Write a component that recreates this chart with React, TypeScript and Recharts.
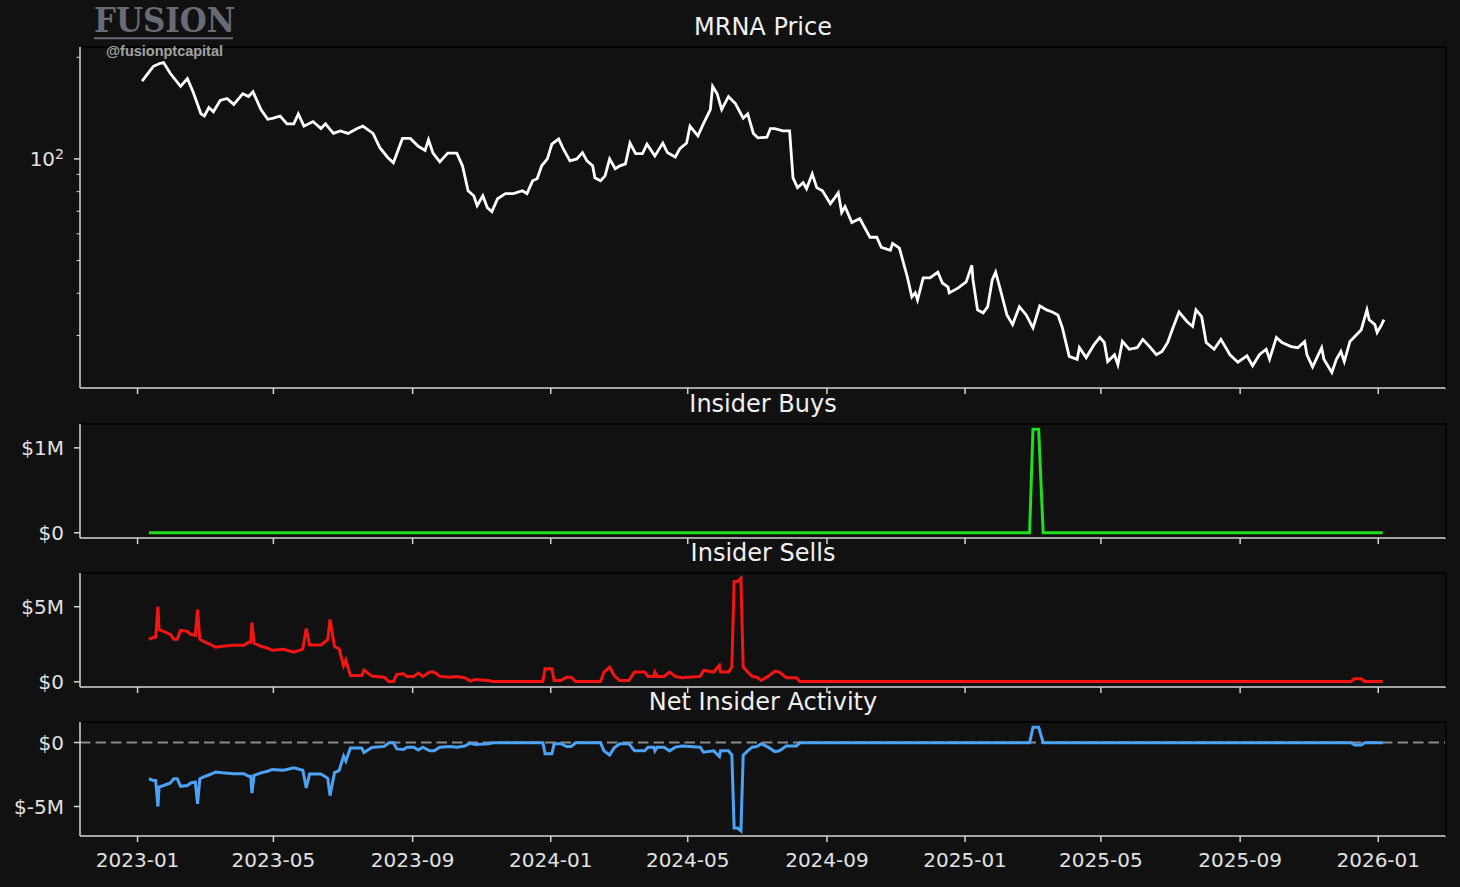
import React from 'react';
import { LineChart, Line, XAxis, YAxis, ReferenceLine } from 'recharts';

// MRNA close (USD)
const priceHistory: [string, number][] = [
  ['2023-01-05', 170], ['2023-01-10', 179], ['2023-01-15', 188], ['2023-01-21', 192],
  ['2023-01-24', 193], ['2023-01-30', 179], ['2023-02-08', 164], ['2023-02-14', 173],
  ['2023-02-19', 158], ['2023-02-26', 136], ['2023-03-01', 134], ['2023-03-05', 142],
  ['2023-03-09', 138], ['2023-03-15', 149], ['2023-03-21', 151], ['2023-03-27', 145],
  ['2023-04-04', 156], ['2023-04-09', 153], ['2023-04-13', 158], ['2023-04-20', 140],
  ['2023-04-26', 131], ['2023-05-01', 132], ['2023-05-07', 134], ['2023-05-13', 127],
  ['2023-05-19', 127], ['2023-05-23', 136], ['2023-05-28', 125], ['2023-06-05', 129],
  ['2023-06-12', 123], ['2023-06-16', 127], ['2023-06-23', 119], ['2023-06-29', 121],
  ['2023-07-06', 119], ['2023-07-14', 123], ['2023-07-19', 125], ['2023-07-28', 119],
  ['2023-08-03', 108], ['2023-08-10', 101], ['2023-08-15', 97.4], ['2023-08-23', 115],
  ['2023-08-30', 115], ['2023-09-06', 109], ['2023-09-12', 106], ['2023-09-15', 114],
  ['2023-09-19', 104], ['2023-09-25', 98], ['2023-10-02', 104], ['2023-10-10', 104],
  ['2023-10-15', 95.4], ['2023-10-20', 80.5], ['2023-10-25', 77.8], ['2023-10-28', 72.7],
  ['2023-11-02', 77.8], ['2023-11-06', 71.7], ['2023-11-10', 69.8], ['2023-11-15', 76.2],
  ['2023-11-22', 78.9], ['2023-11-29', 78.9], ['2023-12-07', 80.5], ['2023-12-11', 78.9],
  ['2023-12-16', 86.2], ['2023-12-20', 87.4], ['2023-12-24', 95.4], ['2023-12-29', 100],
  ['2024-01-02', 110.6], ['2024-01-08', 114.6], ['2024-01-12', 107.2], ['2024-01-18', 98.7],
  ['2024-01-24', 100], ['2024-01-29', 104.4], ['2024-02-02', 98.7], ['2024-02-07', 95.4],
  ['2024-02-09', 87.9], ['2024-02-14', 86.2], ['2024-02-18', 89.1], ['2024-02-22', 100],
  ['2024-02-27', 93.5], ['2024-03-02', 95.4], ['2024-03-07', 96.7], ['2024-03-11', 111.4],
  ['2024-03-16', 103.6], ['2024-03-22', 103.6], ['2024-03-26', 110.6], ['2024-04-02', 102],
  ['2024-04-09', 111.4], ['2024-04-13', 104.4], ['2024-04-20', 101.3], ['2024-04-24', 107.2],
  ['2024-04-30', 111.4], ['2024-05-03', 125], ['2024-05-10', 117], ['2024-05-15', 127.4],
  ['2024-05-21', 140], ['2024-05-23', 164], ['2024-05-27', 156], ['2024-05-31', 140],
  ['2024-06-06', 153], ['2024-06-12', 146], ['2024-06-19', 132], ['2024-06-23', 136],
  ['2024-06-28', 119], ['2024-07-02', 115.4], ['2024-07-10', 116], ['2024-07-13', 123],
  ['2024-07-17', 123], ['2024-07-24', 121], ['2024-07-30', 121], ['2024-08-02', 87.9],
  ['2024-08-06', 82.2], ['2024-08-11', 85], ['2024-08-14', 81.6], ['2024-08-19', 90.3],
  ['2024-08-23', 82.2], ['2024-08-28', 80.5], ['2024-09-04', 73.7], ['2024-09-08', 76.8],
  ['2024-09-11', 79.4], ['2024-09-14', 69.4], ['2024-09-17', 72.2], ['2024-09-23', 64.8],
  ['2024-09-30', 66.6], ['2024-10-09', 58.6], ['2024-10-15', 58.6], ['2024-10-19', 54.7],
  ['2024-10-27', 53.6], ['2024-10-29', 56.2], ['2024-11-04', 54.4], ['2024-11-11', 44.7],
  ['2024-11-15', 39], ['2024-11-18', 40.1], ['2024-11-20', 38.2], ['2024-11-25', 44.4],
  ['2024-12-01', 44.4], ['2024-12-08', 46.2], ['2024-12-12', 42.9], ['2024-12-17', 41.7],
  ['2024-12-18', 40.1], ['2024-12-26', 41.5], ['2025-01-02', 43.2], ['2025-01-07', 48.4],
  ['2025-01-08', 43.8], ['2025-01-12', 35.7], ['2025-01-17', 35], ['2025-01-21', 36.5],
  ['2025-01-25', 43.8], ['2025-01-28', 46.2], ['2025-02-01', 41.2], ['2025-02-07', 34.5],
  ['2025-02-12', 32.3], ['2025-02-18', 36.5], ['2025-02-24', 34.5], ['2025-03-02', 31.6],
  ['2025-03-08', 36.7], ['2025-03-14', 35.7], ['2025-03-19', 35.2], ['2025-03-24', 34.5],
  ['2025-03-28', 31.6], ['2025-04-03', 26], ['2025-04-10', 25.5], ['2025-04-12', 27.6],
  ['2025-04-18', 25.8], ['2025-04-25', 28.2], ['2025-04-30', 29.6], ['2025-05-04', 28.6],
  ['2025-05-07', 25.1], ['2025-05-13', 26.3], ['2025-05-16', 24.6], ['2025-05-20', 28.8],
  ['2025-05-26', 27.3], ['2025-06-02', 27.6], ['2025-06-07', 29.2], ['2025-06-13', 27.8],
  ['2025-06-19', 26.3], ['2025-06-24', 26.9], ['2025-06-29', 28.6], ['2025-07-03', 31.2],
  ['2025-07-09', 35.2], ['2025-07-16', 33], ['2025-07-21', 31.9], ['2025-07-24', 35.7],
  ['2025-07-29', 34.1], ['2025-08-02', 28.6], ['2025-08-09', 27.3], ['2025-08-15', 29.2],
  ['2025-08-23', 26.3], ['2025-08-30', 25], ['2025-09-07', 26.1], ['2025-09-12', 24.4],
  ['2025-09-18', 26.3], ['2025-09-24', 27.3], ['2025-09-27', 25.5], ['2025-10-03', 29.6],
  ['2025-10-08', 28.6], ['2025-10-16', 27.8], ['2025-10-22', 27.6], ['2025-10-28', 28.8],
  ['2025-10-30', 26.3], ['2025-11-04', 24.2], ['2025-11-12', 27.6], ['2025-11-14', 25.5],
  ['2025-11-21', 23.3], ['2025-11-25', 25.5], ['2025-11-29', 26.9], ['2025-12-02', 25.1],
  ['2025-12-07', 28.8], ['2025-12-13', 30.2], ['2025-12-17', 31.2], ['2025-12-22', 35.7],
  ['2025-12-24', 33.4], ['2025-12-29', 32.3], ['2025-12-31', 30.6], ['2026-01-04', 32.3],
  ['2026-01-06', 33.4],
];

// insider sells, $M
const sellHistory: [string, number][] = [
  ['2023-01-11', 2.83], ['2023-01-15', 2.96], ['2023-01-17', 2.96], ['2023-01-19', 5.0],
  ['2023-01-20', 3.49], ['2023-01-24', 3.36], ['2023-01-30', 3.16], ['2023-02-02', 2.83],
  ['2023-02-05', 2.83], ['2023-02-08', 3.42], ['2023-02-14', 3.36], ['2023-02-17', 3.16],
  ['2023-02-21', 3.09], ['2023-02-23', 4.8], ['2023-02-25', 2.83], ['2023-02-28', 2.7],
  ['2023-03-06', 2.5], ['2023-03-11', 2.3], ['2023-03-17', 2.37], ['2023-03-27', 2.43],
  ['2023-04-05', 2.43], ['2023-04-09', 2.63], ['2023-04-11', 2.63], ['2023-04-12', 3.95],
  ['2023-04-14', 2.57], ['2023-04-20', 2.37], ['2023-04-26', 2.24], ['2023-04-30', 2.1],
  ['2023-05-10', 2.17], ['2023-05-19', 1.97], ['2023-05-27', 2.17], ['2023-05-30', 3.55],
  ['2023-06-02', 2.45], ['2023-06-12', 2.45], ['2023-06-18', 2.8], ['2023-06-20', 4.15],
  ['2023-06-24', 2.35], ['2023-06-28', 2.2], ['2023-07-02', 1.07], ['2023-07-04', 1.45],
  ['2023-07-08', 0.42], ['2023-07-18', 0.42], ['2023-07-20', 0.78], ['2023-07-27', 0.38],
  ['2023-08-07', 0.3], ['2023-08-11', 0.02], ['2023-08-15', 0.02], ['2023-08-18', 0.5],
  ['2023-08-24', 0.54], ['2023-08-27', 0.36], ['2023-09-02', 0.36], ['2023-09-06', 0.58],
  ['2023-09-10', 0.36], ['2023-09-16', 0.65], ['2023-09-20', 0.65], ['2023-09-25', 0.36],
  ['2023-10-04', 0.31], ['2023-10-10', 0.36], ['2023-10-17', 0.27], ['2023-10-22', 0.05],
  ['2023-10-26', 0.16], ['2023-11-07', 0.09], ['2023-11-11', 0.02], ['2023-11-30', 0.02],
  ['2023-12-25', 0.02], ['2023-12-27', 0.87], ['2024-01-02', 0.87], ['2024-01-04', 0.09],
  ['2024-01-10', 0.09], ['2024-01-15', 0.31], ['2024-01-19', 0.31], ['2024-01-23', 0.02],
  ['2024-02-14', 0.02], ['2024-02-17', 0.65], ['2024-02-22', 0.98], ['2024-02-26', 0.42],
  ['2024-03-02', 0.09], ['2024-03-10', 0.09], ['2024-03-15', 0.65], ['2024-03-24', 0.65],
  ['2024-03-27', 0.36], ['2024-04-01', 0.36], ['2024-04-02', 0.65], ['2024-04-04', 0.36],
  ['2024-04-10', 0.36], ['2024-04-15', 0.65], ['2024-04-20', 0.36], ['2024-04-26', 0.27],
  ['2024-05-12', 0.36], ['2024-05-15', 0.76], ['2024-05-24', 0.65], ['2024-05-29', 1.09],
  ['2024-05-30', 0.65], ['2024-06-06', 0.65], ['2024-06-09', 0.98], ['2024-06-11', 6.68],
  ['2024-06-14', 6.68], ['2024-06-17', 6.9], ['2024-06-19', 0.98], ['2024-06-23', 0.65],
  ['2024-06-27', 0.36], ['2024-07-01', 0.31], ['2024-07-05', 0.09], ['2024-07-11', 0.36],
  ['2024-07-17', 0.71], ['2024-07-21', 0.65], ['2024-07-27', 0.27], ['2024-08-05', 0.27],
  ['2024-08-08', 0.02], ['2025-02-27', 0.02], ['2025-03-02', 0.02], ['2025-03-07', 0.02],
  ['2025-03-11', 0.02], ['2025-12-08', 0.02], ['2025-12-11', 0.2], ['2025-12-17', 0.2],
  ['2025-12-20', 0.02], ['2026-01-05', 0.02],
];

// insider buys, $M (zero on every other date)
const buyEvents: Record<string, number> = { '2025-03-02': 1.22, '2025-03-07': 1.22 };

const monthTicks = [
  '2023-01-01', '2023-05-01', '2023-09-01', '2024-01-01', '2024-05-01',
  '2024-09-01', '2025-01-01', '2025-05-01', '2025-09-01', '2026-01-01',
];
const priceTicks = [30, 40, 50, 60, 70, 80, 90, 100, 200];
const buyTicks = [0, 1];
const sellTicks = [0, 5];
const netTicks = [-5, 0];

const BG = '#111111';
const AXIS = '#d4d4d4';
const TEXT = '#e2e2e2';
const FONT = '"DejaVu Sans", sans-serif';
const W = 1460;
const PLOT_L = 80;
const PLOT_R = 1446;

const toTs = (d: string) => Date.parse(d + 'T00:00:00Z');

const priceData = priceHistory.map(([d, p]) => ({ t: toTs(d), price: p }));
const activityData = sellHistory.map(([d, s]) => {
  const b = buyEvents[d] ?? 0;
  return { t: toTs(d), buys: b, sells: s, net: +(b - s).toFixed(2) };
});

const pad = (lo: number, hi: number) => {
  const r = hi - lo;
  return [lo - r * 0.05, hi + r * 0.05];
};
const logPad = (lo: number, hi: number) => {
  const a = Math.log10(lo), b = Math.log10(hi), r = b - a;
  return [10 ** (a - r * 0.05), 10 ** (b + r * 0.05)];
};

const allTs = [...priceData.map(p => p.t), ...activityData.map(p => p.t)];
const xDomain = pad(Math.min(...allTs), Math.max(...allTs));
const xTicks = monthTicks.map(toTs);
const prices = priceData.map(p => p.price);
const priceDomain = logPad(Math.min(...prices), Math.max(...prices));
const buyDomain = pad(0, Math.max(...activityData.map(p => p.buys)));
const sellDomain = pad(0, Math.max(...activityData.map(p => p.sells)));
const netVals = activityData.map(p => p.net);
const netDomain = pad(Math.min(...netVals), Math.max(...netVals));

const fmtM = (v: number) => (v === 0 ? '$0' : `$${v}M`);
const fmtMonth = (ts: number) => new Date(ts).toISOString().slice(0, 7);

const panels = [
  { title: 'MRNA Price', top: 47, h: 341 },
  { title: 'Insider Buys', top: 424, h: 114 },
  { title: 'Insider Sells', top: 573, h: 114 },
  { title: 'Net Insider Activity', top: 722, h: 114 },
];

const PriceTick = (props: any) => {
  const { y, payload } = props;
  const major = payload.value === 100;
  return (
    <g>
      <line x1={PLOT_L - (major ? 6 : 3.5)} x2={PLOT_L} y1={y} y2={y} stroke={AXIS} strokeWidth={major ? 1.5 : 1} />
      {major && (
        <text x={PLOT_L - 16} y={y} dy="0.355em" textAnchor="end" fill={TEXT} fontSize={20} fontFamily={FONT}>
          10<tspan dy={-7} fontSize={14}>2</tspan>
        </text>
      )}
    </g>
  );
};

const axisLine = { stroke: AXIS, strokeWidth: 1.5 };
const tickStyle = { fill: TEXT, fontSize: 20, fontFamily: FONT };

const xAxisFor = (labels: boolean) => (
  <XAxis
    dataKey="t"
    type="number"
    domain={xDomain}
    ticks={xTicks}
    allowDataOverflow
    interval={0}
    height={labels ? 40 : 10}
    axisLine={axisLine}
    tickLine={axisLine}
    tickSize={6}
    tickMargin={11}
    tick={tickStyle}
    tickFormatter={labels ? fmtMonth : () => ''}
  />
);

const yAxisFor = (domain: number[], ticks: number[]) => (
  <YAxis
    type="number"
    width={PLOT_L}
    domain={domain}
    ticks={ticks}
    allowDataOverflow
    interval={0}
    axisLine={axisLine}
    tickLine={axisLine}
    tickSize={6}
    tickMargin={10}
    tick={tickStyle}
    tickFormatter={fmtM}
  />
);

const margin = { top: 0, right: W - PLOT_R, bottom: 0, left: 0 };

export default function App() {
  const [p0, p1, p2, p3] = panels;
  return (
    <div style={{ position: 'absolute', left: 0, top: 0, width: W, height: 887, background: BG, overflow: 'hidden' }}>
      <div style={{ position: 'absolute', left: 0, top: p0.top }}>
        <LineChart width={W} height={p0.h + 10} data={priceData} margin={margin}>
          {xAxisFor(false)}
          <YAxis
            type="number"
            scale="log"
            width={PLOT_L}
            domain={priceDomain}
            ticks={priceTicks}
            allowDataOverflow
            interval={0}
            axisLine={axisLine}
            tickLine={false}
            tick={<PriceTick />}
          />
          <Line type="linear" dataKey="price" stroke="#ffffff" strokeWidth={2.8} dot={false} isAnimationActive={false} />
        </LineChart>
      </div>
      <div style={{ position: 'absolute', left: 0, top: p1.top }}>
        <LineChart width={W} height={p1.h + 10} data={activityData} margin={margin}>
          {xAxisFor(false)}
          {yAxisFor(buyDomain, buyTicks)}
          <Line type="linear" dataKey="buys" stroke="#1fdd1f" strokeWidth={3} dot={false} isAnimationActive={false} />
        </LineChart>
      </div>
      <div style={{ position: 'absolute', left: 0, top: p2.top }}>
        <LineChart width={W} height={p2.h + 10} data={activityData} margin={margin}>
          {xAxisFor(false)}
          {yAxisFor(sellDomain, sellTicks)}
          <Line type="linear" dataKey="sells" stroke="#f41414" strokeWidth={3} dot={false} isAnimationActive={false} />
        </LineChart>
      </div>
      <div style={{ position: 'absolute', left: 0, top: p3.top }}>
        <LineChart width={W} height={p3.h + 40} data={activityData} margin={margin}>
          {xAxisFor(true)}
          {yAxisFor(netDomain, netTicks)}
          <ReferenceLine y={0} stroke="#8a8a8a" strokeWidth={2} strokeDasharray="10.5 5" />
          <Line type="linear" dataKey="net" stroke="#4ca3f5" strokeWidth={3} dot={false} isAnimationActive={false} />
        </LineChart>
      </div>

      <svg width={W} height={887} style={{ position: 'absolute', left: 0, top: 0, pointerEvents: 'none' }}>
        {panels.map(p => (
          <g key={p.title}>
            <polyline
              points={`${PLOT_L + 1},${p.top} ${PLOT_R},${p.top} ${PLOT_R},${p.top + p.h}`}
              fill="none"
              stroke="#000000"
              strokeWidth={1.5}
            />
            <text x={(PLOT_L + PLOT_R) / 2} y={p.top - 12} textAnchor="middle" fill="#f0f0f0" fontSize={24} fontFamily={FONT}>
              {p.title}
            </text>
          </g>
        ))}
        <text x={94} y={31.5} fill="#676b73" fontSize={33} fontWeight="bold" fontFamily='"DejaVu Serif", serif' textLength={141} lengthAdjust="spacingAndGlyphs">
          FUSION
        </text>
        <line x1={94} x2={233} y1={38.3} y2={38.3} stroke="#676b73" strokeWidth={2} />
        <text x={106} y={56} fill="#a2a2a2" fontSize={14} fontWeight="bold" fontFamily='"Liberation Sans", Arial, sans-serif' textLength={117} lengthAdjust="spacingAndGlyphs">
          @fusionptcapital
        </text>
      </svg>
    </div>
  );
}
